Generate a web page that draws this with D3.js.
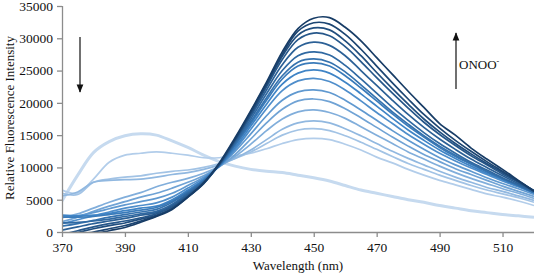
<!DOCTYPE html>
<html><head><meta charset="utf-8">
<script src="https://cdn.jsdelivr.net/npm/d3@7"></script>
<style>body{margin:0;background:#fff}svg{display:block}</style>
</head><body>
<svg id="c" width="536" height="274"></svg>
<script>
const wavelengths = [370,375,380,385,390,395,400,405,410,415,420,425,430,435,440,445,450,455,460,465,470,475,480,485,490,495,500,505,510,515,520];
const xTicks = [370,390,410,430,450,470,490,510];
const yTicks = [0,5000,10000,15000,20000,25000,30000,35000];
// spectra from no ONOO- (first) to highest ONOO- (last)
const s00 = [4800,8800,12300,14000,14900,15200,15000,14100,13100,11900,10900,10200,9700,9400,9200,8800,8400,7900,7200,6500,6000,5500,5000,4600,4100,3700,3300,3000,2700,2500,2300];
const s01 = [6500,6000,8200,10800,11900,12200,12400,12200,11900,11500,11500,11800,12200,12900,13700,14300,14500,14300,13600,12700,11600,10700,9700,8800,8000,7300,6600,5900,5400,4800,4100];
const s02 = [6000,5800,7700,8200,8500,8700,9100,9400,9600,10000,10600,11400,12400,13700,15000,15800,16000,15700,14900,13900,12800,11700,10600,9700,8800,8000,7200,6500,5900,5300,4600];
const s03 = [5600,6200,7700,8000,8100,8200,8500,8900,9200,9700,10400,11400,12700,14300,15900,16900,17200,16900,16000,14900,13700,12500,11400,10400,9400,8500,7700,6900,6300,5600,4900];
const s04 = [2200,2800,3700,4600,5400,6100,7000,7700,8300,9100,10200,11700,13600,15700,17500,18600,18900,18500,17600,16300,15000,13700,12400,11300,10200,9200,8300,7500,6700,6000,5200];
const s05 = [1600,2300,3200,4000,4700,5400,6000,6800,7700,8700,10100,12000,14400,16900,19000,20300,20600,20200,19100,17700,16200,14700,13300,12000,10900,9800,8900,8000,7100,6300,5500];
const s06 = [2400,2500,3000,3600,4200,4700,5200,6000,7200,8500,10200,12500,15200,18000,20400,21700,22000,21600,20400,18900,17300,15700,14200,12800,11500,10400,9400,8400,7500,6700,5800];
const s07 = [1300,1900,2500,3100,3700,4100,4500,5400,6800,8300,10200,12800,15900,19100,21900,23400,23800,23300,22000,20300,18500,16800,15100,13600,12200,11000,9900,8900,7900,7000,6000];
const s08 = [2600,2500,2600,2900,3300,3700,4000,5000,6500,8100,10200,13100,16400,19800,22900,24600,25100,24600,23200,21400,19500,17600,15800,14200,12700,11400,10200,9100,8100,7100,6100];
const s09 = [2300,2300,2400,2700,3000,3400,3800,4800,6300,8000,10300,13400,16800,20400,23700,25700,26200,25700,24200,22300,20300,18300,16400,14700,13100,11700,10500,9300,8200,7200,6100];
const s10 = [900,1300,1800,2300,2700,3100,3500,4600,6200,7900,10300,13600,17100,20800,24200,26300,26800,26300,24800,22800,20700,18600,16700,14900,13300,11900,10600,9400,8300,7200,6100];
const s11 = [1400,1500,1700,2000,2400,2800,3200,4300,6000,7800,10400,13800,17500,21400,25000,27300,27900,27400,25800,23700,21500,19300,17300,15400,13700,12200,10800,9600,8400,7300,6200];
const s12 = [300,800,1300,1700,2100,2600,3000,4100,5800,7700,10400,14000,17900,22000,25900,28600,29400,28900,27300,25000,22700,20400,18200,16200,14400,12800,11300,10000,8700,7500,6300];
const s13 = [-400,200,800,1300,1700,2200,2800,3900,5600,7600,10500,14200,18200,22500,26700,29800,30800,30400,28700,26400,23900,21500,19200,17000,15100,13400,11800,10400,9000,7700,6400];
const s14 = [-800,-100,500,1000,1400,2000,2600,3700,5500,7500,10500,14300,18400,22800,27200,30500,31600,31300,29600,27300,24700,22200,19800,17500,15500,13700,12100,10600,9200,7800,6400];
const s15 = [-1200,-400,0,500,1000,1700,2500,3600,5400,7500,10600,14400,18600,23000,27500,31100,32400,32200,30600,28300,25700,23100,20600,18200,16100,14200,12500,10900,9400,7900,6400];
const s16 = [-1500,-600,-300,200,700,1500,2400,3500,5400,7600,10700,14600,18800,23200,27900,31500,33100,33200,31700,29600,27000,24400,21800,19300,16800,15000,13000,11300,9700,8000,6300];
const spectra = [s00,s01,s02,s03,s04,s05,s06,s07,s08,s09,s10,s11,s12,s13,s14,s15,s16];

const FONT = "'Liberation Serif', Tinos, 'Times New Roman', Times, 'DejaVu Serif', serif";
const svg = d3.select("#c").style("font-family", FONT);
const L = 62, R = 534, T = 6, B = 232;
const x = d3.scaleLinear().domain([370,520]).range([L,R]);
const y = d3.scaleLinear().domain([0,35000]).range([B,T]);

const defs = svg.append("defs");
defs.append("clipPath").attr("id","clip")
  .append("rect").attr("x",L).attr("y",0).attr("width",R-L).attr("height",B);

const col = d3.scaleLinear().domain([1,8,16]).range(["#b2cdea","#3f84c6","#173c66"]).interpolate(d3.interpolateRgb);
const line = d3.line().x((d,i)=>x(wavelengths[i])).y(d=>y(d)).curve(d3.curveCatmullRom);

const g = svg.append("g").attr("clip-path","url(#clip)");
spectra.forEach((s,i)=>{
  g.append("path").attr("d",line(s)).attr("fill","none")
   .attr("stroke", i===0 ? "#c6daef" : col(i))
   .attr("stroke-width", i===0 ? 3 : 1.7)
   .attr("stroke-linejoin","round");
});

const yAxis = svg.append("g").attr("transform",`translate(${L},0)`)
  .call(d3.axisLeft(y).tickValues(yTicks).tickFormat(d3.format("d")).tickSize(5).tickPadding(4));
const xAxis = svg.append("g").attr("transform",`translate(0,${B})`)
  .call(d3.axisBottom(x).tickValues(xTicks).tickFormat(d3.format("d")).tickSize(5).tickPadding(5));
[yAxis,xAxis].forEach(a=>{
  a.attr("font-family", FONT).attr("font-size", 13.5);
  a.selectAll("path,line").attr("stroke","#8c8c8c").attr("stroke-width",1.3);
  a.selectAll("text").attr("font-family", FONT).attr("font-size", 13.5).attr("fill","#111");
});
xAxis.select(".domain").attr("d",`M${L},0.5H${R}`);
yAxis.select(".domain").attr("d",`M0.5,${B}V${T}`);

svg.append("text").attr("x",298).attr("y",270).attr("text-anchor","middle")
  .attr("font-family", FONT).attr("font-size",13).attr("fill","#111").text("Wavelength (nm)");
svg.append("text").attr("transform","translate(14,118) rotate(-90)").attr("text-anchor","middle")
  .attr("font-family", FONT).attr("font-size",13).attr("fill","#111").text("Relative Fluorescence Intensity");

defs.append("marker").attr("id","ah").attr("viewBox","0 0 10 10").attr("refX",9).attr("refY",5)
  .attr("markerWidth",7).attr("markerHeight",7).attr("orient","auto")
  .append("path").attr("d","M0,1 L10,5 L0,9 Z").attr("fill","#111");
svg.append("line").attr("x1",80).attr("y1",37).attr("x2",80).attr("y2",92).attr("stroke","#111").attr("stroke-width",1.2).attr("marker-end","url(#ah)");
svg.append("line").attr("x1",456).attr("y1",89).attr("x2",456).attr("y2",33).attr("stroke","#111").attr("stroke-width",1.2).attr("marker-end","url(#ah)");
const t = svg.append("text").attr("x",459).attr("y",69).attr("font-family", FONT).attr("font-size",13).attr("fill","#111");
t.append("tspan").text("ONOO");
t.append("tspan").attr("dy",-5).attr("font-size",8).text("-");
</script>
</body></html>
